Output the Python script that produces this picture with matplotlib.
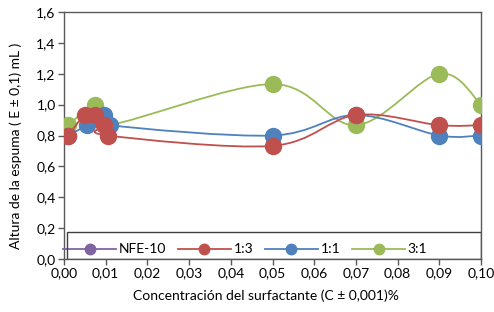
import matplotlib
matplotlib.use('Agg')
import matplotlib.pyplot as plt
from matplotlib.path import Path
from matplotlib.patches import PathPatch, Rectangle
from matplotlib.lines import Line2D

plt.rcParams['font.family'] = ['Lato', 'DejaVu Sans']

# data
series_names = ['NFE-10', '1:3', '1:1', '3:1']
colors = ['#8064A2', '#C0504D', '#4F81BD', '#9BBB59']

x_13 = [0.001, 0.005, 0.0075, 0.0095, 0.0105, 0.05, 0.07, 0.09, 0.10]
y_13 = [0.80, 0.933, 0.933, 0.867, 0.80, 0.733, 0.933, 0.867, 0.867]

x_11 = [0.001, 0.0055, 0.0095, 0.011, 0.05, 0.07, 0.09, 0.10]
y_11 = [0.80, 0.867, 0.933, 0.867, 0.80, 0.933, 0.80, 0.80]

x_31 = [0.001, 0.0075, 0.0105, 0.05, 0.07, 0.09, 0.10]
y_31 = [0.867, 1.0, 0.867, 1.133, 0.867, 1.20, 1.0]

xticks = [i / 100 for i in range(11)]
yticks = [i / 5 for i in range(9)]


def smooth_path(xs, ys):
    """Excel-like smoothed line as cubic bezier path."""
    pts = list(zip(xs, ys))
    n = len(pts)
    verts = [pts[0]]
    codes = [Path.MOVETO]
    for i in range(n - 1):
        p0 = pts[i - 1] if i > 0 else pts[i]
        p1 = pts[i]
        p2 = pts[i + 1]
        p3 = pts[i + 2] if i + 2 < n else pts[i + 1]
        c1 = (p1[0] + (p2[0] - p0[0]) / 6, p1[1] + (p2[1] - p0[1]) / 6)
        c2 = (p2[0] - (p3[0] - p1[0]) / 6, p2[1] - (p3[1] - p1[1]) / 6)
        verts += [c1, c2, p2]
        codes += [Path.CURVE4] * 3
    return Path(verts, codes)


fig = plt.figure(figsize=(4.94, 3.12), dpi=100)
ax = fig.add_axes([0.1296, 0.1699, 0.9737 - 0.1296, 0.9615 - 0.1699])

data = [(x_31, y_31, colors[3], 3), (x_11, y_11, colors[2], 4), (x_13, y_13, colors[1], 5)]
for xs, ys, c, z in data:
    ax.add_patch(PathPatch(smooth_path(xs, ys), fill=False, edgecolor=c,
                           lw=1.3, zorder=z))
    ax.plot(xs, ys, 'o', color=c, ms=11.5, mec=c, zorder=z + 0.5)

fs = 10
ax.set_xlim(0, 0.10)
ax.set_ylim(0, 1.6)
ax.set_xticks(xticks)
ax.set_yticks(yticks)
ax.set_xticklabels([('%.2f' % v).replace('.', ',') for v in xticks], fontsize=fs)
ax.set_yticklabels([('%.1f' % v).replace('.', ',') for v in yticks], fontsize=fs)
ax.tick_params(length=4, width=1, color='#595959', labelcolor='black', pad=2)
for s in ax.spines.values():
    s.set_color('#595959')
    s.set_linewidth(1.0)

ax.set_ylabel('Altura de la espuma ( E ± 0,1) mL )', fontsize=fs)
ax.yaxis.set_label_coords(-0.100, 0.46)
ax.set_xlabel('Concentración del surfactante (C ± 0,001)%', fontsize=fs)
ax.xaxis.set_label_coords(0.485, -0.125)

# legend box across the bottom of the plot area
ax.add_patch(Rectangle((0.007, 0.0), 0.993, 0.11, transform=ax.transAxes,
                       fill=False, edgecolor='#404040', lw=1.0, zorder=10))
handles = [Line2D([], [], color=c, lw=1.3, marker='o', ms=7.5) for c in colors]
ax.legend(handles, series_names, loc='lower left', bbox_to_anchor=(-0.025, -0.025),
          ncol=4, frameon=False, fontsize=fs, handlelength=3.8,
          columnspacing=0.85, handletextpad=0.2, borderaxespad=0.3)

fig.savefig('out.png', dpi=100)
